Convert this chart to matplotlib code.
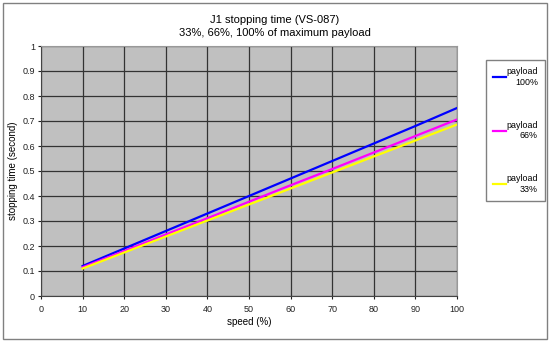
import matplotlib
matplotlib.use('Agg')
import matplotlib.pyplot as plt
from matplotlib.patches import Rectangle

plt.rcParams['font.family'] = ['Liberation Sans', 'DejaVu Sans']

# speed (%) and stopping time (second) for each payload
speed = [10, 20, 30, 40, 50, 60, 70, 80, 90, 100]
t_100 = [0.12, 0.19, 0.26, 0.33, 0.40, 0.47, 0.54, 0.61, 0.68, 0.752]
t_66 = [0.115, 0.18, 0.246, 0.311, 0.377, 0.443, 0.508, 0.574, 0.64, 0.706]
t_33 = [0.11, 0.174, 0.238, 0.302, 0.366, 0.43, 0.494, 0.558, 0.622, 0.686]

series = [
    (t_100, 'payload\n100%', '#0000FF'),
    (t_66, 'payload\n66%', '#FF00FF'),
    (t_33, 'payload\n33%', '#FFFF00'),
]

fig = plt.figure(figsize=(5.5, 3.42), dpi=100)
ax = fig.add_axes([41 / 550, 1 - 296 / 342, 416 / 550, 250 / 342])
ax.set_facecolor('#C0C0C0')

for vals, lab, col in series:
    ax.plot(speed, vals, color=col, lw=1.6, label=lab)

ax.set_xlim(0, 100)
ax.set_ylim(0, 1)
ax.set_xticks(range(0, 101, 10))
ax.set_yticks([i / 10 for i in range(11)])
ax.set_yticklabels(['0'] + ['0.%d' % i for i in range(1, 10)] + ['1'])
ax.grid(True, color='#333333', lw=0.9)
ax.set_axisbelow(True)
ax.tick_params(labelsize=6.5, length=2, width=0.8, colors='#222222')
ax.tick_params(axis='y', pad=2.3)
ax.tick_params(axis='x', pad=4.5)
for s in ['top', 'right']:
    ax.spines[s].set_color('#999999')
for s in ['left', 'bottom']:
    ax.spines[s].set_color('#444444')

ax.set_xlabel('speed (%)', fontsize=7, labelpad=2)
ax.set_ylabel('stopping time (second)', fontsize=7, labelpad=3)

fig.text(0.5, 1 - 20 / 342, 'J1 stopping time (VS-087)', ha='center',
         va='center', fontsize=8)
fig.text(0.5, 1 - 33 / 342, '33%, 66%, 100% of maximum payload',
         ha='center', va='center', fontsize=8)

leg = ax.legend(loc='upper left', bbox_to_anchor=(486 / 550, 1 - 60 / 342),
                bbox_transform=fig.transFigure, fontsize=6.4, handlelength=1.4,
                handletextpad=0.1, labelspacing=3.85, borderpad=0.8,
                borderaxespad=0, fancybox=False, framealpha=1,
                edgecolor='#808080')
leg.get_frame().set_linewidth(1)
for t in leg.get_texts():
    t.set_multialignment('right')

fig.patches.append(Rectangle((3 / 550, 3 / 342), 544 / 550, 336 / 342,
                             transform=fig.transFigure, fill=False,
                             edgecolor='#808080', lw=1))

fig.savefig('out.png', dpi=100)
